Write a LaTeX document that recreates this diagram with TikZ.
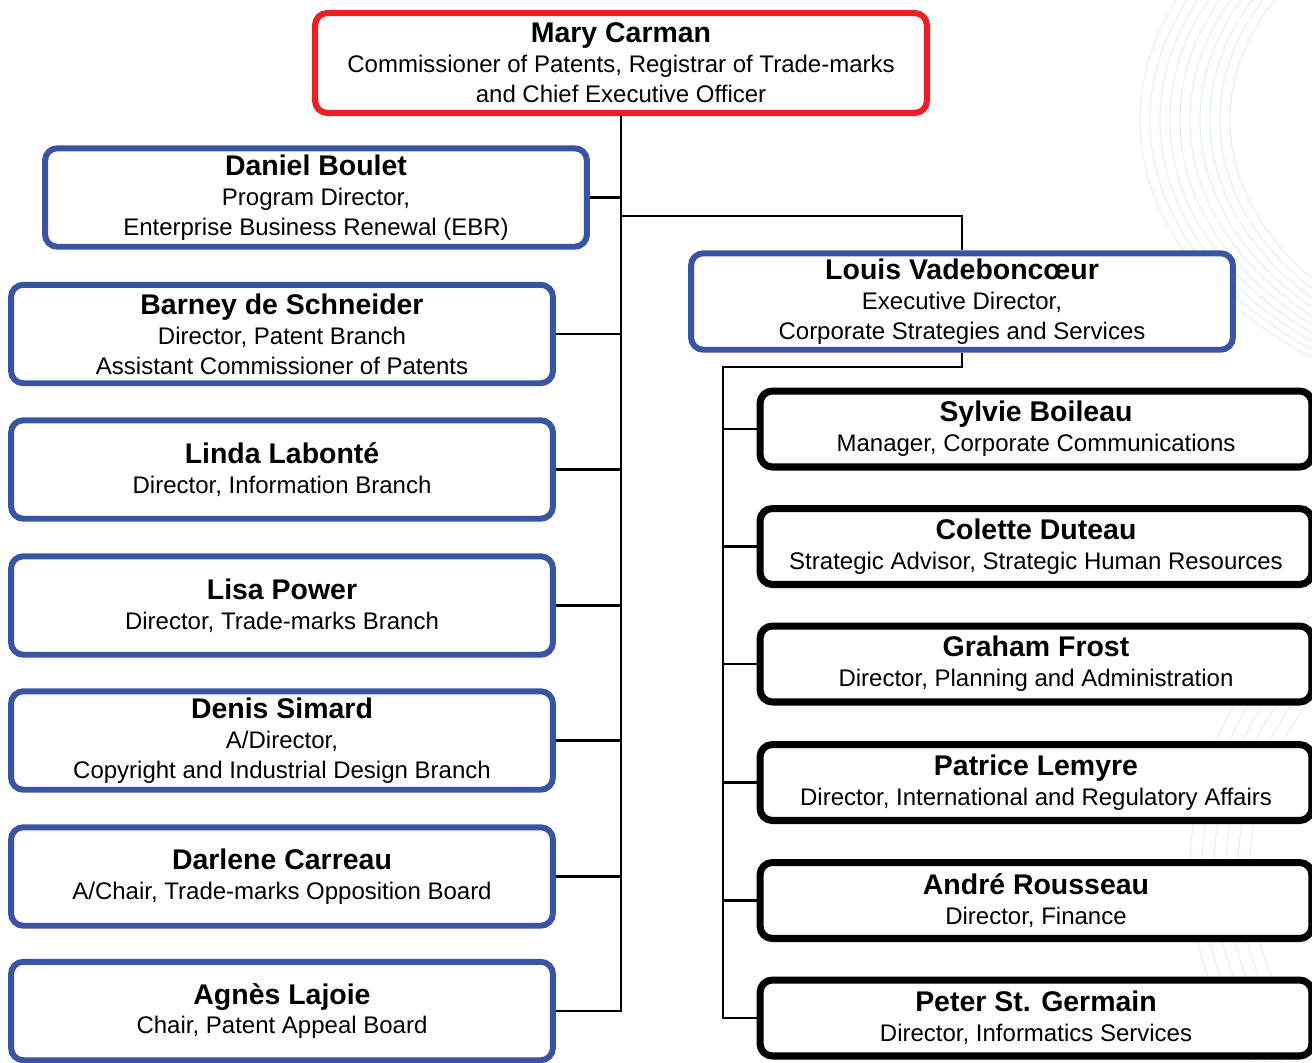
\documentclass[tikz,border=0pt]{standalone}
\usepackage{fontspec}
\setmainfont{Liberation Sans}
\usetikzlibrary{backgrounds}
\definecolor{bossred}{RGB}{237,30,36}
\definecolor{mgrblue}{RGB}{58,84,164}
\definecolor{decoblue}{RGB}{228,238,250}
\newcommand\nm[1]{{\fontsize{16.2pt}{18pt}\selectfont\bfseries #1}}
\tikzset{
  box/.style={draw, fill=white, rounded corners=7pt, align=center, inner sep=2pt,
    font=\fontsize{13.66pt}{17pt}\selectfont},
  redbox/.style={box, draw=bossred, line width=3.5pt, minimum width=12.24cm, minimum height=2cm},
  bluebox/.style={box, draw=mgrblue, line width=3.4pt, minimum width=10.84cm, minimum height=1.97cm},
  blackbox/.style={box, draw=black, line width=4pt, minimum width=11.04cm, minimum height=1.52cm},
  conn/.style={draw=black, line width=1.5pt},
  deco/.style={draw=decoblue, line width=0.6pt}
}
\begin{document}
\begin{tikzpicture}[x=0.02cm, y=-0.02cm]
\useasboundingbox (0,0) rectangle (1312,1062);
\begin{scope}
\clip (0,0) rectangle (1312,1062);
% faint background decoration
\foreach \r in {0,10,...,90} {
  \draw[deco] (1560,120) ellipse ({330+\r} and {240+\r*0.6});
}
\foreach \r in {0,12,...,60} {
  \draw[deco] (1500,870) ellipse ({250+\r} and {260+\r});
}
\end{scope}

\node[redbox] (mary) at (621,63) {\nm{Mary Carman}\\Commissioner of Patents, Registrar of Trade-marks\\and Chief Executive Officer};

\node[bluebox] (daniel) at (316,197.5) {\nm{Daniel Boulet}\\Program Director,\\Enterprise Business Renewal (EBR)};
\node[bluebox] (barney) at (282,334) {\nm{Barney de Schneider}\\Director, Patent Branch\\Assistant Commissioner of Patents};
\node[bluebox] (linda) at (282,469.5) {\nm{Linda Labonté}\\Director, Information Branch};
\node[bluebox] (lisa) at (282,605.5) {\nm{Lisa Power}\\Director, Trade-marks Branch};
\node[bluebox] (denis) at (282,740.5) {\nm{Denis Simard}\\A/Director,\\Copyright and Industrial Design Branch};
\node[bluebox] (darlene) at (282,876.5) {\nm{Darlene Carreau}\\A/Chair, Trade-marks Opposition Board};
\node[bluebox] (agnes) at (282,1011) {\nm{Agnès Lajoie}\\Chair, Patent Appeal Board};

\node[bluebox, minimum height=1.93cm] (louis) at (962,301.5) {\nm{Louis Vadeboncœur}\\Executive Director,\\Corporate Strategies and Services};

\node[blackbox] (sylvie) at (1036,429) {\nm{Sylvie Boileau}\\Manager, Corporate Communications};
\node[blackbox] (colette) at (1036,546.5) {\nm{Colette Duteau}\\Strategic Advisor, Strategic Human Resources};
\node[blackbox] (graham) at (1036,664) {\nm{Graham Frost}\\Director, Planning and Administration};
\node[blackbox] (patrice) at (1036,782.5) {\nm{Patrice Lemyre}\\Director, International and Regulatory Affairs};
\node[blackbox] (andre) at (1036,900.5) {\nm{André Rousseau}\\Director, Finance};
\node[blackbox] (peter) at (1036,1018) {\nm{Peter St. Germain}\\Director, Informatics Services};

\coordinate (lj) at (622,216);
\coordinate (rj) at (723,367);

\begin{scope}[on background layer]
\draw[conn] (mary.south) -- (mary.south |- agnes.east) -- (agnes.east);
\foreach \n in {daniel,barney,linda,lisa,denis,darlene} {
  \draw[conn] (\n.east) -- (\n.east -| mary.south);
}
\draw[conn] (lj) -| (louis.north);
\draw[conn] (louis.south) |- (rj) -- (rj |- peter.west) -- (peter.west);
\foreach \n in {sylvie,colette,graham,patrice,andre} {
  \draw[conn] (\n.west) -- (\n.west -| rj);
}
\end{scope}
\end{tikzpicture}
\end{document}
